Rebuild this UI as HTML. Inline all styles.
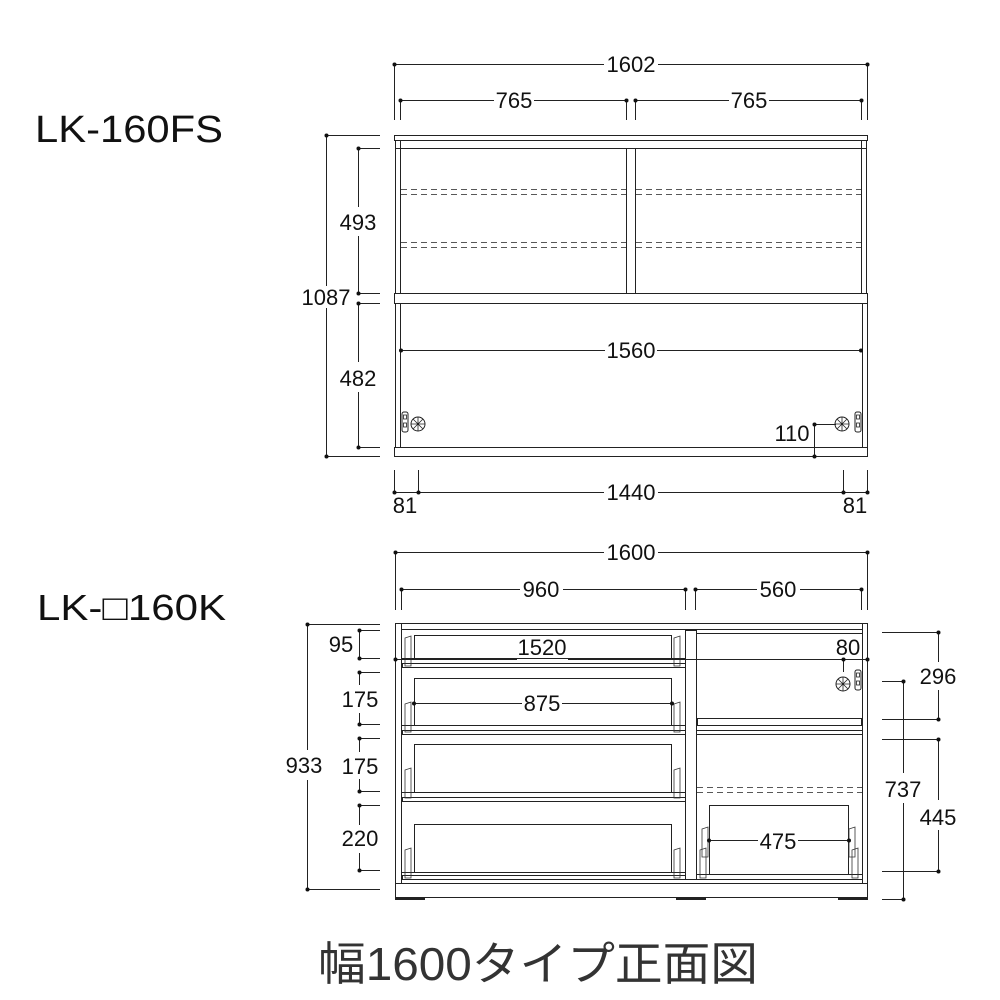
<!DOCTYPE html>
<html><head><meta charset="utf-8"><style>
html,body{margin:0;padding:0;background:#fff}
svg{display:block}
text{font-family:"Liberation Sans","Noto Sans CJK JP",sans-serif;fill:#111}
</style></head><body>
<svg width="1000" height="1000" viewBox="0 0 1000 1000" xmlns="http://www.w3.org/2000/svg">
<defs>
<g id="knob">
  <circle cx="0" cy="0" r="7" fill="none" stroke="#222" stroke-width="1"/>
  <path d="M-7 0H7M0 -7V7M-5 -5L5 5M-5 5L5 -5" stroke="#222" stroke-width="0.8"/>
</g>
<g id="hinge">
  <rect x="0" y="0" width="6" height="20" rx="2" fill="none" stroke="#222" stroke-width="1"/>
  <rect x="1.5" y="3" width="3" height="4" fill="none" stroke="#222" stroke-width="0.8"/>
  <rect x="1.5" y="11" width="3" height="4" fill="none" stroke="#222" stroke-width="0.8"/>
</g>
<g id="clip">
  <path d="M0 0L6 -2V28H0Z" fill="none" stroke="#333" stroke-width="0.8"/>
</g>
</defs>

<!-- Titles -->
<text x="35" y="142" font-size="38" textLength="188" lengthAdjust="spacingAndGlyphs">LK-160FS</text>
<text x="37" y="620" font-size="36" textLength="189" lengthAdjust="spacingAndGlyphs">LK-□160K</text>
<text x="318" y="980" font-size="46" style="fill:#333" textLength="440" lengthAdjust="spacingAndGlyphs">幅1600タイプ正面図</text>

<g stroke="#222" stroke-width="1" fill="none">
<!-- ===== TOP CABINET ===== -->
<rect x="394.5" y="135.5" width="473" height="5"/>
<rect x="395.5" y="140.5" width="471" height="8"/>
<line x1="400.5" y1="140" x2="400.5" y2="294"/>
<line x1="861.5" y1="140" x2="861.5" y2="294"/>
<rect x="395.5" y="148.5" width="5" height="145"/>
<rect x="861.5" y="148.5" width="5" height="145"/>
<rect x="626.5" y="148.5" width="9" height="145"/>
<rect x="394.5" y="293.5" width="473" height="10"/>
<rect x="395.5" y="303.5" width="5" height="144"/>
<rect x="862.5" y="303.5" width="5" height="144"/>
<rect x="394.5" y="447.5" width="473" height="9"/>
<g stroke-dasharray="6,4" stroke-width="0.8">
<line x1="401" y1="189.5" x2="626" y2="189.5"/><line x1="401" y1="194.5" x2="626" y2="194.5"/>
<line x1="636" y1="189.5" x2="861" y2="189.5"/><line x1="636" y1="194.5" x2="861" y2="194.5"/>
<line x1="401" y1="242.5" x2="626" y2="242.5"/><line x1="401" y1="247.5" x2="626" y2="247.5"/>
<line x1="636" y1="242.5" x2="861" y2="242.5"/><line x1="636" y1="247.5" x2="861" y2="247.5"/>
</g>
</g>
<use href="#hinge" x="402" y="412"/>
<use href="#knob" x="418" y="424"/>
<use href="#hinge" x="855" y="412"/>
<use href="#knob" x="842" y="424"/>

<!-- top cabinet dims -->
<g stroke="#222" stroke-width="1" fill="none">
<line x1="394.5" y1="64" x2="394.5" y2="120"/><line x1="867.5" y1="64" x2="867.5" y2="120"/>
<line x1="394" y1="64.5" x2="604" y2="64.5"/><line x1="658" y1="64.5" x2="868" y2="64.5"/>
<line x1="400.5" y1="100" x2="400.5" y2="120"/><line x1="626.5" y1="100" x2="626.5" y2="120"/>
<line x1="635.5" y1="100" x2="635.5" y2="120"/><line x1="861.5" y1="100" x2="861.5" y2="120"/>
<line x1="400" y1="100.5" x2="494" y2="100.5"/><line x1="534" y1="100.5" x2="627" y2="100.5"/>
<line x1="635" y1="100.5" x2="729" y2="100.5"/><line x1="769" y1="100.5" x2="862" y2="100.5"/>
<!-- 1087 -->
<line x1="326.5" y1="135" x2="326.5" y2="286"/><line x1="326.5" y1="308" x2="326.5" y2="457"/>
<line x1="326" y1="135.5" x2="380" y2="135.5"/><line x1="326" y1="456.5" x2="380" y2="456.5"/>
<line x1="358" y1="148.5" x2="380" y2="148.5"/><line x1="358" y1="293.5" x2="380" y2="293.5"/>
<line x1="358" y1="303.5" x2="380" y2="303.5"/><line x1="358" y1="447.5" x2="380" y2="447.5"/>
<line x1="358.5" y1="148" x2="358.5" y2="207"/><line x1="358.5" y1="236" x2="358.5" y2="293"/>
<line x1="358.5" y1="303" x2="358.5" y2="362"/><line x1="358.5" y1="392" x2="358.5" y2="447"/>
<!-- 1560 -->
<line x1="401" y1="350.5" x2="605" y2="350.5"/><line x1="657" y1="350.5" x2="861" y2="350.5"/>
<!-- 110 -->
<line x1="814.5" y1="424" x2="814.5" y2="457"/><line x1="814" y1="424.5" x2="836" y2="424.5"/>
<line x1="814" y1="456.5" x2="843" y2="456.5"/>
<!-- bottom 81/1440/81 -->
<line x1="394.5" y1="470" x2="394.5" y2="492"/><line x1="418.5" y1="470" x2="418.5" y2="492"/>
<line x1="843.5" y1="470" x2="843.5" y2="492"/><line x1="867.5" y1="470" x2="867.5" y2="492"/>
<line x1="394" y1="492.5" x2="604" y2="492.5"/><line x1="658" y1="492.5" x2="868" y2="492.5"/>
</g>
<g fill="#111">
<circle cx="394.5" cy="64.5" r="2"/><circle cx="867.5" cy="64.5" r="2"/>
<circle cx="400.5" cy="100.5" r="2"/><circle cx="626.5" cy="100.5" r="2"/>
<circle cx="635.5" cy="100.5" r="2"/><circle cx="861.5" cy="100.5" r="2"/>
<circle cx="326.5" cy="135.5" r="2"/><circle cx="326.5" cy="456.5" r="2"/>
<circle cx="358.5" cy="148.5" r="2"/><circle cx="358.5" cy="293.5" r="2"/>
<circle cx="358.5" cy="303.5" r="2"/><circle cx="358.5" cy="447.5" r="2"/>
<circle cx="401" cy="350.5" r="2"/><circle cx="861" cy="350.5" r="2"/>
<circle cx="814.5" cy="424.5" r="2"/><circle cx="814.5" cy="456.5" r="2"/>
<circle cx="394.5" cy="492.5" r="2"/><circle cx="418.5" cy="492.5" r="2"/>
<circle cx="843.5" cy="492.5" r="2"/><circle cx="867.5" cy="492.5" r="2"/>
</g>
<g font-size="22" text-anchor="middle">
<text x="631" y="72">1602</text>
<text x="514" y="108">765</text>
<text x="749" y="108">765</text>
<text x="358" y="230">493</text>
<text x="326" y="305">1087</text>
<text x="358" y="386">482</text>
<text x="631" y="358">1560</text>
<text x="792" y="441">110</text>
<text x="405" y="513">81</text>
<text x="631" y="500">1440</text>
<text x="855" y="513">81</text>
</g>

<!-- ===== BOTTOM CABINET ===== -->
<g stroke="#222" stroke-width="1" fill="none">
<rect x="395.5" y="623.5" width="472" height="274"/>
<line x1="401.5" y1="624" x2="401.5" y2="883"/>
<line x1="862.5" y1="624" x2="862.5" y2="883"/>
<line x1="401" y1="629.5" x2="862" y2="629.5"/>
<line x1="396" y1="883.5" x2="867" y2="883.5"/>
<rect x="685.5" y="630.5" width="11" height="249"/>
<!-- left drawer fronts -->
<rect x="402.5" y="663.5" width="283" height="4"/>
<rect x="402.5" y="730.5" width="283" height="4"/>
<rect x="402.5" y="797.5" width="283" height="4"/>
<rect x="402.5" y="875.5" width="283" height="4"/>
<line x1="402" y1="658.5" x2="685" y2="658.5"/>
<line x1="402" y1="725.5" x2="685" y2="725.5"/>
<line x1="402" y1="792.5" x2="685" y2="792.5"/>
<line x1="402" y1="872.5" x2="685" y2="872.5"/>
<path d="M414.5 658V635.5H671.5V658"/>
<path d="M414.5 725V678.5H671.5V725"/>
<path d="M414.5 792V744.5H671.5V792"/>
<path d="M414.5 872V824.5H671.5V872"/>
<!-- right side -->
<line x1="697" y1="633.5" x2="862" y2="633.5"/>
<rect x="697.5" y="718.5" width="164" height="7"/>
<line x1="697" y1="730.5" x2="862" y2="730.5"/>
<line x1="697" y1="734.5" x2="862" y2="734.5"/>
<g stroke-dasharray="6,4" stroke-width="0.8">
<line x1="697" y1="787.5" x2="862" y2="787.5"/><line x1="697" y1="792.5" x2="862" y2="792.5"/>
</g>
<path d="M709.5 874V805.5H848.5V874"/>
<line x1="697" y1="874.5" x2="862" y2="874.5"/>
<line x1="697" y1="879.5" x2="862" y2="879.5"/>
</g>
<!-- feet -->
<g fill="#222">
<rect x="395" y="897" width="30" height="3"/>
<rect x="676" y="897" width="30" height="3"/>
<rect x="838" y="897" width="30" height="3"/>
</g>
<!-- drawer clips -->
<use href="#clip" x="405" y="638"/><use href="#clip" x="674" y="638"/>
<use href="#clip" x="405" y="704"/><use href="#clip" x="674" y="704"/>
<use href="#clip" x="405" y="770"/><use href="#clip" x="674" y="770"/>
<use href="#clip" x="405" y="850"/><use href="#clip" x="674" y="850"/>
<use href="#clip" x="700" y="850"/><use href="#clip" x="852" y="850"/>
<use href="#clip" x="702" y="829"/><use href="#clip" x="849" y="829"/>
<use href="#hinge" x="855" y="670"/>
<use href="#knob" x="843" y="684"/>

<!-- bottom cabinet dims -->
<g stroke="#222" stroke-width="1" fill="none">
<line x1="395.5" y1="552" x2="395.5" y2="610"/><line x1="867.5" y1="552" x2="867.5" y2="610"/>
<line x1="395" y1="552.5" x2="604" y2="552.5"/><line x1="658" y1="552.5" x2="868" y2="552.5"/>
<line x1="401.5" y1="589" x2="401.5" y2="610"/><line x1="685.5" y1="589" x2="685.5" y2="610"/>
<line x1="695.5" y1="589" x2="695.5" y2="610"/><line x1="861.5" y1="589" x2="861.5" y2="610"/>
<line x1="401" y1="589.5" x2="520" y2="589.5"/><line x1="563" y1="589.5" x2="686" y2="589.5"/>
<line x1="695" y1="589.5" x2="757" y2="589.5"/><line x1="800" y1="589.5" x2="862" y2="589.5"/>
<!-- 933 -->
<line x1="307.5" y1="624" x2="307.5" y2="750"/><line x1="307.5" y1="780" x2="307.5" y2="890"/>
<line x1="307" y1="624.5" x2="380" y2="624.5"/><line x1="307" y1="889.5" x2="380" y2="889.5"/>
<line x1="360" y1="630.5" x2="380" y2="630.5"/><line x1="360" y1="658.5" x2="380" y2="658.5"/>
<line x1="360" y1="672.5" x2="380" y2="672.5"/><line x1="360" y1="724.5" x2="380" y2="724.5"/>
<line x1="360" y1="738.5" x2="380" y2="738.5"/><line x1="360" y1="791.5" x2="380" y2="791.5"/>
<line x1="360" y1="805.5" x2="380" y2="805.5"/><line x1="360" y1="870.5" x2="380" y2="870.5"/>
<line x1="359.5" y1="630" x2="359.5" y2="658"/>
<line x1="359.5" y1="672" x2="359.5" y2="685"/><line x1="359.5" y1="713" x2="359.5" y2="724"/>
<line x1="359.5" y1="738" x2="359.5" y2="752"/><line x1="359.5" y1="779" x2="359.5" y2="791"/>
<line x1="359.5" y1="805" x2="359.5" y2="825"/><line x1="359.5" y1="853" x2="359.5" y2="870"/>
<!-- 1520 -->
<line x1="395" y1="659.5" x2="517" y2="659.5"/><line x1="568" y1="659.5" x2="868" y2="659.5"/>
<line x1="843.5" y1="659" x2="843.5" y2="672"/>
<!-- 875 -->
<line x1="414" y1="703.5" x2="522" y2="703.5"/><line x1="562" y1="703.5" x2="672" y2="703.5"/>
<!-- 475 -->
<line x1="709" y1="840.5" x2="758" y2="840.5"/><line x1="798" y1="840.5" x2="849" y2="840.5"/>
<!-- right dims -->
<line x1="882" y1="632.5" x2="938" y2="632.5"/><line x1="882" y1="719.5" x2="938" y2="719.5"/>
<line x1="882" y1="739.5" x2="938" y2="739.5"/><line x1="882" y1="871.5" x2="938" y2="871.5"/>
<line x1="882" y1="681.5" x2="903" y2="681.5"/><line x1="882" y1="899.5" x2="903" y2="899.5"/>
<line x1="938.5" y1="632" x2="938.5" y2="662"/><line x1="938.5" y1="690" x2="938.5" y2="719"/>
<line x1="938.5" y1="739" x2="938.5" y2="800"/><line x1="938.5" y1="830" x2="938.5" y2="871"/>
<line x1="903.5" y1="681" x2="903.5" y2="773"/><line x1="903.5" y1="803" x2="903.5" y2="899"/>
</g>
<g fill="#111">
<circle cx="395.5" cy="552.5" r="2"/><circle cx="867.5" cy="552.5" r="2"/>
<circle cx="401.5" cy="589.5" r="2"/><circle cx="685.5" cy="589.5" r="2"/>
<circle cx="695.5" cy="589.5" r="2"/><circle cx="861.5" cy="589.5" r="2"/>
<circle cx="307.5" cy="624.5" r="2"/><circle cx="307.5" cy="889.5" r="2"/>
<circle cx="359.5" cy="630.5" r="2"/><circle cx="359.5" cy="658.5" r="2"/>
<circle cx="359.5" cy="672.5" r="2"/><circle cx="359.5" cy="724.5" r="2"/>
<circle cx="359.5" cy="738.5" r="2"/><circle cx="359.5" cy="791.5" r="2"/>
<circle cx="359.5" cy="805.5" r="2"/><circle cx="359.5" cy="870.5" r="2"/>
<circle cx="395.5" cy="659.5" r="2"/><circle cx="867.5" cy="659.5" r="2"/><circle cx="843.5" cy="659.5" r="2"/>
<circle cx="414" cy="703.5" r="2"/><circle cx="672" cy="703.5" r="2"/>
<circle cx="709" cy="840.5" r="2"/><circle cx="849" cy="840.5" r="2"/>
<circle cx="938.5" cy="632.5" r="2"/><circle cx="938.5" cy="719.5" r="2"/>
<circle cx="938.5" cy="739.5" r="2"/><circle cx="938.5" cy="871.5" r="2"/>
<circle cx="903.5" cy="681.5" r="2"/><circle cx="903.5" cy="899.5" r="2"/>
</g>
<rect x="518" y="648" width="48" height="8" fill="#fff"/>
<g font-size="22" text-anchor="middle">
<text x="631" y="560">1600</text>
<text x="541" y="597">960</text>
<text x="778" y="597">560</text>
<text x="341" y="652">95</text>
<text x="360" y="707">175</text>
<text x="360" y="774">175</text>
<text x="360" y="846">220</text>
<text x="304" y="773">933</text>
<text x="542" y="655">1520</text>
<text x="848" y="655">80</text>
<text x="542" y="711">875</text>
<text x="778" y="849">475</text>
<text x="938" y="684">296</text>
<text x="903" y="797">737</text>
<text x="938" y="825">445</text>
</g>
</svg>
</body></html>
